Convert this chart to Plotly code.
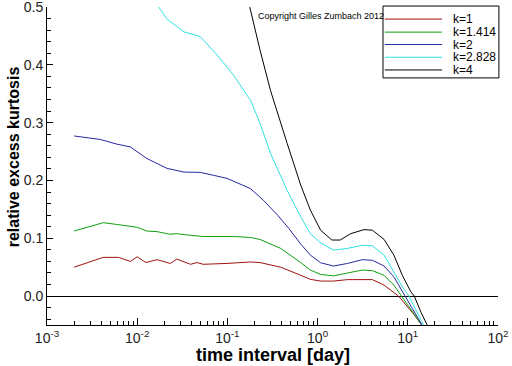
import plotly.graph_objects as go

# ---- data ----
k1_x = [0.002, 0.0042, 0.0062, 0.0084, 0.010, 0.0125, 0.0166, 0.0233, 0.0275, 0.039, 0.046, 0.054,
        0.099, 0.18, 0.23, 0.39, 0.65, 0.83, 1.08, 1.5, 2.15, 3.13, 4.05, 5.46, 7.0, 7.9, 10, 12, 15]
k1_y = [0.050, 0.067, 0.067, 0.060, 0.068, 0.058, 0.063, 0.0565, 0.064, 0.055, 0.058, 0.055,
        0.0565, 0.059, 0.058, 0.050, 0.036, 0.029, 0.026, 0.026, 0.0285, 0.029, 0.0285, 0.019, 0.007, 0.0,
        -0.019, -0.034, -0.055]

k1414_x = [0.002, 0.0042, 0.0059, 0.0084, 0.010, 0.0128, 0.0166, 0.023, 0.0275, 0.035, 0.054, 0.118,
           0.18, 0.23, 0.39, 0.65, 0.83, 1.08, 1.5, 2.15, 3.13, 4.05, 5.46, 7.0, 8.4, 10, 12, 15]
k1414_y = [0.1125, 0.127, 0.124, 0.120, 0.119, 0.1125, 0.1115, 0.107, 0.108, 0.106, 0.103, 0.103,
           0.1015, 0.098, 0.0825, 0.058, 0.045, 0.0375, 0.035, 0.040, 0.045, 0.044, 0.036, 0.019, 0.002,
           -0.016, -0.033, -0.055]

k2_x = [0.002, 0.0039, 0.0059, 0.0084, 0.0128, 0.0214, 0.033, 0.05, 0.07, 0.099, 0.18, 0.25, 0.36,
        0.48, 0.65, 0.83, 1.08, 1.5, 2.15, 3.13, 4.05, 5.46, 7.0, 9.1, 11, 15]
k2_y = [0.277, 0.271, 0.263, 0.258, 0.238, 0.221, 0.2145, 0.214, 0.209, 0.2036, 0.186, 0.166, 0.140,
        0.117, 0.090, 0.071, 0.0577, 0.052, 0.0565, 0.063, 0.062, 0.052, 0.0334, 0.002, -0.02, -0.055]

k2828_x = [0.0173, 0.0214, 0.033, 0.05, 0.077, 0.117, 0.18, 0.23, 0.30, 0.46, 0.65, 0.83, 1.08, 1.5,
           2.15, 3.13, 4.05, 5.46, 7.0, 8.7, 10.3, 12.5, 15.5]
k2828_y = [0.5, 0.479, 0.457, 0.449, 0.417, 0.382, 0.339, 0.299, 0.247, 0.183, 0.137, 0.108, 0.092,
           0.0796, 0.0825, 0.088, 0.087, 0.071, 0.042, 0.016, 0.0, -0.025, -0.055]

k4_x = [0.177, 0.23, 0.30, 0.36, 0.46, 0.65, 0.83, 1.08, 1.44, 1.78, 2.33, 3.27, 4.05, 5.46, 7.0, 8.7,
        10.8, 11.8, 14, 17]
k4_y = [0.5, 0.4256, 0.356, 0.315, 0.264, 0.192, 0.149, 0.114, 0.097, 0.097, 0.108, 0.115, 0.114,
        0.098, 0.071, 0.036, 0.0075, 0.0, -0.028, -0.055]

series_names = ["k=1", "k=1.414", "k=2", "k=2.828", "k=4"]
series_colors = ["#a01010", "#10a010", "#2828a0", "#30e0e0", "#000000"]
series_x = [k1_x, k1414_x, k2_x, k2828_x, k4_x]
series_y = [k1_y, k1414_y, k2_y, k2828_y, k4_y]

x_tickvals = [1e-3, 1e-2, 1e-1, 1e0, 1e1, 1e2]
x_ticktext = ["10<sup>-3</sup>", "10<sup>-2</sup>", "10<sup>-1</sup>",
              "10<sup>0</sup>", "10<sup>1</sup>", "10<sup>2</sup>"]
y_tickvals = [0.0, 0.1, 0.2, 0.3, 0.4, 0.5]
y_ticktext = ["0.0", "0.1", "0.2", "0.3", "0.4", "0.5"]

FONT = "Liberation Sans, Arial, sans-serif"

fig = go.Figure()
for nm, c, xs, ys in zip(series_names, series_colors, series_x, series_y):
    fig.add_trace(go.Scatter(x=xs, y=ys, mode="lines", name=nm,
                             line=dict(color=c, width=1), showlegend=False, hoverinfo="skip"))

minor_x = [m * 10.0 ** e for e in range(-3, 2) for m in range(2, 10)]

fig.update_layout(
    width=512, height=366,
    margin=dict(l=47, r=14, t=7, b=41, autoexpand=False),
    paper_bgcolor="white", plot_bgcolor="white",
    font=dict(family=FONT, color="black"),
    xaxis=dict(type="log", range=[-3, 2], showline=True, linecolor="black", linewidth=1,
               automargin=False, ticklabeloverflow="allow",
               showgrid=False, zeroline=False, ticks="inside", ticklen=7, tickcolor="black",
               tickvals=x_tickvals, ticktext=x_ticktext, tickfont=dict(size=14, color="#222"),
               minor=dict(ticks="inside", ticklen=4, tickcolor="black", tickvals=minor_x, showgrid=False)),
    yaxis=dict(range=[-0.05, 0.5001], showline=True, linecolor="black", linewidth=1,
               automargin=False, ticklabeloverflow="allow",
               showgrid=False, zeroline=True, zerolinecolor="black", zerolinewidth=1,
               ticks="inside", ticklen=6, tickcolor="black", tickmode="array",
               tickvals=y_tickvals, ticktext=y_ticktext,
               tickfont=dict(size=14, color="#222"),
               minor=dict(ticks="inside", ticklen=4, tickcolor="black", dtick=0.02, tick0=0, showgrid=False)),
)

# axis titles
fig.add_annotation(xref="paper", yref="paper", x=0.50, y=-0.094, text="<b>time interval [day]</b>",
                   showarrow=False, xanchor="center", yanchor="middle",
                   font=dict(size=18, family=FONT, color="black"))
fig.add_annotation(xref="paper", yref="paper", x=-0.075, y=0.528, text="<b>relative excess kurtosis</b>",
                   showarrow=False, xanchor="center", yanchor="middle", textangle=-90,
                   font=dict(size=16, family=FONT, color="black"))

# manual legend box
fig.add_shape(type="rect", xref="paper", yref="paper", x0=0.745, x1=1.002, y0=0.777, y1=1.003,
              line=dict(color="black", width=1), fillcolor="white", layer="above")
rows = [0.962, 0.921, 0.882, 0.842, 0.802]
for nm, c, ry in zip(series_names, series_colors, rows):
    fig.add_shape(type="line", xref="paper", yref="paper", x0=0.749, x1=0.876, y0=ry, y1=ry,
                  line=dict(color=c, width=1), layer="above")
    fig.add_annotation(xref="paper", yref="paper", x=0.898, y=ry, text=nm, showarrow=False,
                       xanchor="left", yanchor="middle", borderpad=0,
                       font=dict(size=12, family=FONT, color="black"))

fig.add_annotation(xref="paper", yref="paper", x=0.463, y=0.972, text="Copyright Gilles Zumbach 2012",
                   showarrow=False, xanchor="left", yanchor="middle",
                   font=dict(size=9, family=FONT, color="black"))

fig.write_html("out.html", config={"displayModeBar": False},
               post_script="document.body.style.margin='0';document.body.style.overflow='hidden';")
